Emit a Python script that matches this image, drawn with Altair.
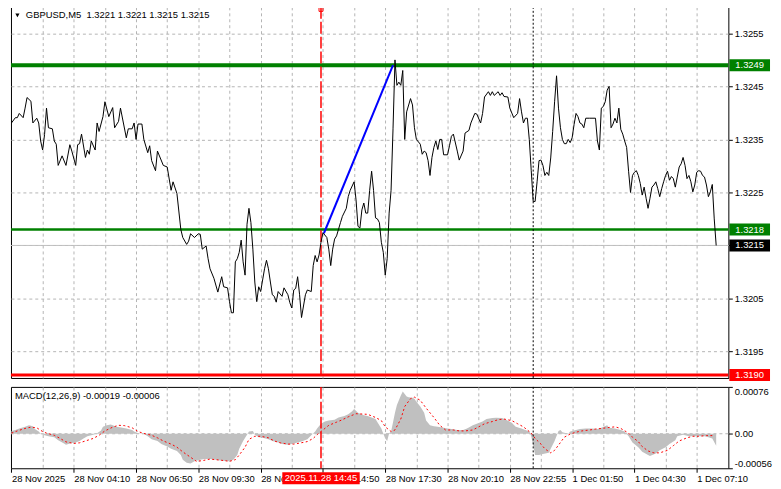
import json
import altair as alt
import pandas as pd

# ---------------- data ----------------
# GBPUSD M5 close, (bar index, price)
close_segment_1 = [
    (0, 1.32381), (2, 1.32391), (3, 1.32391), (4, 1.32399), (6, 1.32391), (7, 1.32409), (8, 1.32429),
    (10, 1.32422), (11, 1.32381), (13, 1.32390), (14, 1.32381), (15, 1.32347), (16, 1.32330), (17, 1.32359),
    (18, 1.32409), (19, 1.32372), (21, 1.32370), (22, 1.32347), (23, 1.32341), (24, 1.32301), (26, 1.32319),
    (28, 1.32301), (30, 1.32340), (31, 1.32328), (33, 1.32301), (34, 1.32340), (35, 1.32342), (36, 1.32360),
    (38, 1.32316), (39, 1.32330), (40, 1.32322), (41, 1.32347), (43, 1.32330), (44, 1.32381), (45, 1.32365),
    (47, 1.32393), (48, 1.32421), (50, 1.32393), (52, 1.32410), (53, 1.32372), (55, 1.32384), (56, 1.32409),
    (59, 1.32353), (60, 1.32370), (62, 1.32370), (63, 1.32381), (64, 1.32350), (65, 1.32379), (67, 1.32379),
    (68, 1.32350), (70, 1.32325), (71, 1.32338), (72, 1.32310), (74, 1.32291), (75, 1.32328), (78, 1.32301),
    (80, 1.32298), (82, 1.32254), (83, 1.32270), (85, 1.32248), (87, 1.32180), (88, 1.32165), (90, 1.32152),
    (91, 1.32158),
]
close_segment_2 = [
    (92, 1.32172), (94, 1.32165), (96, 1.32172), (97, 1.32171), (98, 1.32143), (100, 1.32149), (101, 1.32125),
    (102, 1.32106), (104, 1.32088), (106, 1.32062), (108, 1.32091), (109, 1.32072), (111, 1.32070),
    (112, 1.32044), (113, 1.32023), (114, 1.32023), (115, 1.32119), (116, 1.32125), (117, 1.32137),
    (118, 1.32160), (119, 1.32119), (120, 1.32094), (121, 1.32190), (122, 1.32220), (123, 1.32193),
    (124, 1.32143), (125, 1.32081), (126, 1.32044), (127, 1.32072), (128, 1.32063), (130, 1.32106),
    (131, 1.32122), (132, 1.32106), (133, 1.32081), (134, 1.32057), (135, 1.32054), (136, 1.32043),
    (137, 1.32063), (139, 1.32054), (140, 1.32070), (142, 1.32057), (143, 1.32042), (144, 1.32032),
    (145, 1.32066), (146, 1.32069), (147, 1.32091), (148, 1.32057), (149, 1.32014), (151, 1.32057),
    (152, 1.32066), (154, 1.32063), (155, 1.32112), (156, 1.32131), (157, 1.32119), (158, 1.32132),
    (159, 1.32156), (160, 1.32174), (162, 1.32165), (163, 1.32143), (164, 1.32112), (165, 1.32143),
    (166, 1.32162), (167, 1.32168), (169, 1.32193), (170, 1.32205), (172, 1.32220), (173, 1.32242),
    (174, 1.32254), (176, 1.32270), (177, 1.32236), (178, 1.32186), (179, 1.32183), (180, 1.32217),
    (181, 1.32230),
]
close_segment_3 = [
    (182, 1.32211), (183, 1.32211), (184, 1.32254), (185, 1.32290), (186, 1.32254), (187, 1.32202),
    (188, 1.32200), (189, 1.32193), (190, 1.32156), (191, 1.32137), (192, 1.32094), (193, 1.32125),
    (194, 1.32211), (195, 1.32254), (196, 1.32370), (197, 1.32500), (198, 1.32452), (199, 1.32458),
    (200, 1.32452), (201, 1.32480), (202, 1.32350), (203, 1.32402), (205, 1.32427), (206, 1.32415),
    (207, 1.32372), (208, 1.32350), (210, 1.32341), (211, 1.32322), (212, 1.32328), (213, 1.32325),
    (214, 1.32310), (215, 1.32282), (216, 1.32316), (217, 1.32335), (218, 1.32347), (219, 1.32331),
    (220, 1.32350), (221, 1.32350), (222, 1.32321), (224, 1.32321), (225, 1.32338), (226, 1.32356),
    (227, 1.32360), (229, 1.32328), (230, 1.32311), (232, 1.32328), (233, 1.32362), (235, 1.32367),
    (236, 1.32381), (238, 1.32399), (239, 1.32398), (241, 1.32381), (242, 1.32399), (243, 1.32430),
    (245, 1.32440), (246, 1.32433), (247, 1.32440), (248, 1.32433), (250, 1.32440), (251, 1.32433),
    (252, 1.32438), (253, 1.32431), (255, 1.32430), (256, 1.32409), (258, 1.32391), (260, 1.32399),
    (261, 1.32427), (262, 1.32402), (263, 1.32381), (264, 1.32390), (265, 1.32390), (266, 1.32350),
    (267, 1.32291), (268, 1.32233), (269, 1.32233), (270, 1.32270),
]
close_segment_4 = [
    (271, 1.32310), (272, 1.32311), (273, 1.32301), (274, 1.32282), (275, 1.32288), (276, 1.32282),
    (277, 1.32315), (278, 1.32365), (279, 1.32421), (280, 1.32470), (281, 1.32409), (282, 1.32372),
    (283, 1.32350), (284, 1.32342), (285, 1.32342), (286, 1.32350), (287, 1.32344), (288, 1.32353),
    (289, 1.32378), (290, 1.32399), (291, 1.32393), (292, 1.32381), (293, 1.32379), (294, 1.32372),
    (295, 1.32390), (297, 1.32390), (300, 1.32390), (301, 1.32347), (302, 1.32330), (303, 1.32409),
    (304, 1.32412), (305, 1.32421), (306, 1.32443), (307, 1.32450), (308, 1.32372), (309, 1.32379),
    (310, 1.32390), (311, 1.32381), (312, 1.32409), (313, 1.32369), (314, 1.32360), (315, 1.32347),
    (316, 1.32335), (317, 1.32290), (318, 1.32250), (319, 1.32282), (320, 1.32288), (321, 1.32291),
    (322, 1.32282), (323, 1.32267), (324, 1.32245), (325, 1.32260), (326, 1.32239), (327, 1.32220),
    (328, 1.32239), (329, 1.32260), (330, 1.32264), (331, 1.32270), (332, 1.32257), (333, 1.32242),
    (334, 1.32257), (335, 1.32270), (336, 1.32282), (337, 1.32290), (338, 1.32273), (339, 1.32280),
    (340, 1.32276), (341, 1.32260), (342, 1.32279), (343, 1.32298), (344, 1.32304), (345, 1.32316),
    (346, 1.32301), (347, 1.32276), (348, 1.32282), (349, 1.32270), (350, 1.32251), (351, 1.32264),
    (352, 1.32288), (353, 1.32291), (354, 1.32290), (355, 1.32282), (356, 1.32279), (357, 1.32264),
    (358, 1.32242), (359, 1.32251), (360, 1.32265), (361, 1.32200), (362, 1.32150),
]

# MACD(12,26,9) main line (histogram), (bar, value)
macd_main = [
    (0, 0.000046), (2, 0.000061), (4, 0.000086), (7, 0.000112), (9, 0.000137), (11, 0.000122),
    (12, 0.000076), (14, 0.000036), (15, 0.0), (17, -0.000025), (19, -0.000041), (22, -0.000056),
    (24, -0.000107), (27, -0.000157), (28, -0.000178), (31, -0.000152), (33, -0.000142), (35, -0.000117),
    (37, -0.000076), (39, -0.000041), (42, -0.000015), (44, 0.000010), (46, 0.000051), (47, 0.000112),
    (49, 0.000137), (51, 0.000152), (52, 0.000137), (54, 0.000112), (57, 0.000096), (59, 0.000086),
    (62, 0.000061), (63, 0.000036), (65, 0.000010), (68, 0.0), (70, -0.000041), (72, -0.000091),
    (75, -0.000117), (77, -0.000168), (80, -0.000208), (82, -0.000244), (85, -0.000279), (87, -0.000345),
    (88, -0.000421), (90, -0.000472), (92, -0.000482), (94, -0.000447), (97, -0.000421), (99, -0.000411),
    (102, -0.000411), (105, -0.000421), (108, -0.000437), (112, -0.000447), (114, -0.000421),
    (116, -0.000345), (117, -0.000244), (119, -0.000117), (121, -0.000015), (122, 0.000036),
    (124, 0.000046), (125, -0.000015), (127, -0.000056), (129, -0.000066), (132, -0.000091),
    (134, -0.000117), (137, -0.000142), (139, -0.000168), (142, -0.000178), (144, -0.000168),
    (147, -0.000142), (149, -0.000127), (152, -0.000091), (154, -0.000025), (156, 0.000036),
    (157, 0.000086), (159, 0.000162), (161, 0.000198), (163, 0.000213), (166, 0.000228), (168, 0.000264),
    (171, 0.000289), (173, 0.000315), (175, 0.000365), (176, 0.000401), (178, 0.000340), (181, 0.000299),
    (183, 0.000289), (185, 0.000264), (187, 0.000239), (188, 0.000188), (190, 0.000086), (191, 0.0),
    (192, -0.000076), (193, -0.000117), (194, 0.000010), (195, 0.000036), (196, 0.000188), (197, 0.000340),
    (198, 0.000467), (199, 0.000543), (200, 0.000619), (201, 0.000685), (202, 0.000645), (203, 0.000604),
    (204, 0.000594), (206, 0.000584), (207, 0.000569), (208, 0.000518), (210, 0.000442), (212, 0.000340),
    (213, 0.000213), (215, 0.000137), (217, 0.000122), (219, 0.000112), (222, 0.000096), (224, 0.000086),
    (227, 0.000071), (229, 0.000061), (232, 0.000061), (234, 0.000086), (237, 0.000137), (239, 0.000162),
    (242, 0.000198), (244, 0.000239), (247, 0.000254), (249, 0.000259), (252, 0.000254), (254, 0.000228),
    (257, 0.000178), (259, 0.000112), (262, 0.000086), (264, 0.000061), (266, 0.000036), (267, -0.000041),
    (269, -0.000345), (271, -0.000345), (273, -0.000330), (276, -0.000310), (277, -0.000244),
    (279, -0.000117), (281, 0.000046), (282, 0.000061), (283, 0.000025), (286, 0.0), (287, 0.000036),
    (290, 0.000061), (292, 0.000076), (295, 0.000086), (298, 0.000086), (301, 0.000076), (303, 0.000096),
    (306, 0.000137), (307, 0.000096), (310, 0.000086), (313, 0.000061), (315, 0.000036), (317, -0.000041),
    (319, -0.000142), (322, -0.000218), (324, -0.000294), (327, -0.000345), (328, -0.000360),
    (331, -0.000320), (333, -0.000269), (336, -0.000218), (338, -0.000168), (341, -0.000107),
    (342, -0.000041), (345, -0.000015), (348, -0.000041), (351, -0.000041), (353, -0.000041),
    (356, -0.000041), (358, -0.000056), (360, -0.000076), (362, -0.000193),
]

# MACD signal line, (bar, value)
macd_signal = [
    (0, 0.000010), (3, 0.000046), (7, 0.000086), (10, 0.000107), (13, 0.000096), (16, 0.000036),
    (18, 0.000010), (22, -0.000025), (25, -0.000076), (28, -0.000132), (32, -0.000157), (35, -0.000147),
    (38, -0.000117), (42, -0.000076), (45, -0.000025), (48, 0.000046), (52, 0.000107), (55, 0.000137),
    (58, 0.000132), (62, 0.000096), (65, 0.000036), (68, 0.000005), (72, -0.000025), (75, -0.000066),
    (78, -0.000117), (82, -0.000168), (85, -0.000218), (88, -0.000294), (92, -0.000381), (95, -0.000447),
    (98, -0.000437), (102, -0.000411), (105, -0.000421), (108, -0.000431), (112, -0.000447),
    (115, -0.000421), (117, -0.000345), (120, -0.000218), (122, -0.000091), (125, -0.000041),
    (128, -0.000041), (132, -0.000066), (135, -0.000117), (138, -0.000147), (142, -0.000168),
    (145, -0.000168), (148, -0.000152), (152, -0.000127), (155, -0.000076), (157, -0.000015),
    (160, 0.000061), (163, 0.000137), (167, 0.000188), (170, 0.000228), (173, 0.000274), (177, 0.000325),
    (183, 0.000315), (187, 0.000264), (190, 0.000213), (192, 0.000112), (195, 0.000036), (197, 0.000061),
    (200, 0.000239), (202, 0.000442), (205, 0.000569), (207, 0.000594), (210, 0.000543), (213, 0.000416),
    (217, 0.000264), (220, 0.000137), (223, 0.000061), (227, 0.000061), (230, 0.000046), (233, 0.000046),
    (237, 0.000061), (240, 0.000112), (243, 0.000162), (247, 0.000198), (250, 0.000228), (253, 0.000239),
    (257, 0.000213), (260, 0.000162), (263, 0.000112), (267, 0.000010), (269, -0.000076), (272, -0.000168),
    (274, -0.000244), (277, -0.000310), (279, -0.000269), (282, -0.000142), (284, -0.000056),
    (287, -0.000005), (290, 0.000025), (293, 0.000046), (297, 0.000061), (300, 0.000076), (303, 0.000086),
    (307, 0.000102), (310, 0.000112), (313, 0.000086), (317, 0.000010), (319, -0.000056), (322, -0.000127),
    (324, -0.000208), (327, -0.000279), (330, -0.000310), (333, -0.000310), (337, -0.000269),
    (340, -0.000193), (343, -0.000117), (347, -0.000066), (350, -0.000041), (353, -0.000041),
    (357, -0.000030), (360, -0.000030),
]

grid_bars = [0, 16, 32, 48, 64, 80, 96, 112, 128, 144, 160, 176, 192, 208, 224, 240, 256, 272, 288, 304,
             320, 336, 352]
time_labels = ["28 Nov 2025", "28 Nov 04:10", "28 Nov 06:50", "28 Nov 09:30", "28 Nov 12:10",
               "28 Nov 14:50", "28 Nov 17:30", "28 Nov 20:10", "28 Nov 22:55", "1 Dec 01:50",
               "1 Dec 04:30", "1 Dec 07:10"]
price_ticks = [1.3195, 1.3205, 1.3215, 1.3225, 1.3235, 1.3245, 1.3255]
macd_ticks = [-0.00056, 0.0, 0.00076]
macd_tick_labels = ["-0.00056", "0.00", "0.00076"]

resistance_price = [1.3249]
support_price = [1.3218]
current_price = [1.3215]
stop_price = [1.3190]
trend_bar = [160.5, 196.0]
trend_price = [1.32173, 1.32490]
marker_bar = [159]
session_bar = [268]

title_text = "GBPUSD,M5\u00a0 1.3221 1.3221 1.3215 1.3215"
macd_text = "MACD(12,26,9) -0.00019 -0.00006"
marker_time = "2025.11.28 14:45"

# ---------------- styling ----------------
W = 723
H_MAIN = 374
H_MACD = 82
FONT = "Liberation Sans"
FS = 9.5
GRID = "#b4b4b4"
GREEN = "#008000"

close_rows = close_segment_1 + close_segment_2 + close_segment_3 + close_segment_4
price_df = pd.DataFrame(close_rows, columns=["bar", "price"])
macd_df = pd.DataFrame(macd_main, columns=["bar", "value"])
signal_df = pd.DataFrame(macd_signal, columns=["bar", "value"])
trend_df = pd.DataFrame({"bar": trend_bar, "price": trend_price})

x_scale = alt.Scale(domain=[-0.25, 368.25], nice=False, zero=False)
y_scale = alt.Scale(domain=[1.3190, 1.3260], nice=False, zero=False)
m_scale = alt.Scale(domain=[-0.00056, 0.00076], nice=False, zero=False)

main_x_axis = alt.Axis(values=grid_bars[1:], labels=False, ticks=False, domain=False, grid=True,
                       gridDash=[3, 3], gridColor=GRID, title=None)
main_y_axis = alt.Axis(orient="right", values=price_ticks, format=".4f", grid=True, gridDash=[3, 3],
                       gridColor=GRID, tickSize=4, tickColor="black", labelPadding=2, domain=False,
                       title=None, labelFont=FONT, labelFontSize=FS, labelColor="black")

labels_js = json.dumps(time_labels)
macd_x_axis = alt.Axis(
    values=grid_bars,
    labelExpr=f"datum.value % 32 === 0 ? {labels_js}[datum.value / 32] : ''",
    labelAlign="left", labelFlush=False, labelOverlap=False, labelBound=False,
    tickSize=4, tickColor="black",
    tickOpacity={"condition": {"test": "datum.value % 32 === 0", "value": 1}, "value": 0},
    labelPadding=1, grid=True, gridDash=[3, 3], gridColor=GRID,
    gridOpacity={"condition": {"test": "datum.value === 0", "value": 0}, "value": 1},
    domain=False, title=None, labelFont=FONT, labelFontSize=FS, labelColor="black")

macd_label_expr = (f"datum.value < 0 ? '{macd_tick_labels[0]}' : "
                   f"(datum.value > 0 ? '{macd_tick_labels[2]}' : '{macd_tick_labels[1]}')")
macd_y_axis = alt.Axis(orient="right", values=macd_ticks, labelExpr=macd_label_expr, grid=False,
                       tickSize=4, tickColor="black", labelPadding=2, labelFlush=True, domain=False,
                       title=None, labelFont=FONT, labelFontSize=FS, labelColor="black")

X = alt.X("bar:Q", scale=x_scale, axis=main_x_axis)
Y = alt.Y("price:Q", scale=y_scale, axis=main_y_axis)
XM = alt.X("bar:Q", scale=x_scale, axis=macd_x_axis)
YM = alt.Y("value:Q", scale=m_scale, axis=macd_y_axis)


def price_df_of(vals):
    return pd.DataFrame({"price": vals, "label": [f"{v:.4f}" for v in vals]})


def bar_df_of(vals):
    return pd.DataFrame({"bar": vals})


# ---------------- main panel ----------------
cur_line = alt.Chart(price_df_of(current_price)).mark_rule(color="#c0c0c0", strokeWidth=1).encode(y=Y)
sup_line = alt.Chart(price_df_of(support_price)).mark_rule(color=GREEN, strokeWidth=2.5).encode(y=Y)
res_line = alt.Chart(price_df_of(resistance_price)).mark_rule(color=GREEN, strokeWidth=4).encode(y=Y)
stop_line = alt.Chart(price_df_of(stop_price)).mark_rule(color="#ff0000", strokeWidth=3, yOffset=-3).encode(y=Y)

red_vline = alt.Chart(bar_df_of(marker_bar)).mark_rule(color="#ff0000", strokeWidth=1.5,
                                                       strokeDash=[12, 3]).encode(x=X)
black_vline = alt.Chart(bar_df_of(session_bar)).mark_rule(color="black", strokeWidth=1,
                                                          strokeDash=[2, 2]).encode(x=X)
marker_sq = alt.Chart(bar_df_of(marker_bar)).mark_point(shape="square", filled=False, color="#ff0000",
                                                        size=16, strokeWidth=1, opacity=1).encode(
    x=X, y=alt.value(2.5))

price_line = alt.Chart(price_df).mark_line(color="black", strokeWidth=1).encode(x=X, y=Y)
trend_line = alt.Chart(trend_df).mark_line(color="#0000ff", strokeWidth=2).encode(x=X, y=Y)


def price_box(vals, fill, y_shift=0):
    d = price_df_of(vals)
    box = alt.Chart(d).mark_rect(color=fill, yOffset=y_shift - 6, y2Offset=y_shift + 6).encode(
        y=Y, y2=alt.Y2("price:Q"), x=alt.value(W + 1), x2=alt.value(W + 42))
    txt = alt.Chart(d).mark_text(color="white", align="left", baseline="middle", font=FONT,
                                 fontSize=FS, yOffset=y_shift).encode(
        y=Y, x=alt.value(W + 7), text="label:N")
    return box + txt


title_tri = alt.Chart(pd.DataFrame({"t": [title_text]})).mark_point(
    shape="triangle-down", filled=True, color="black", size=18, opacity=1).encode(
    x=alt.value(6.5), y=alt.value(8.5))
title_txt = alt.Chart(pd.DataFrame({"t": [title_text]})).mark_text(
    align="left", baseline="middle", font=FONT, fontSize=FS, color="black").encode(
    x=alt.value(15), y=alt.value(8), text="t:N")

main = alt.layer(
    cur_line, sup_line, res_line, stop_line, red_vline, black_vline, price_line, trend_line, marker_sq,
    price_box(resistance_price, GREEN), price_box(support_price, GREEN),
    price_box(current_price, "black"), price_box(stop_price, "#ff0000", -3),
    title_tri, title_txt,
).properties(width=W, height=H_MAIN)

# ---------------- MACD panel ----------------
zero_line = alt.Chart(pd.DataFrame({"value": [0.0]})).mark_rule(color=GRID, strokeDash=[3, 3]).encode(y=YM)
hist = alt.Chart(macd_df).mark_area(color="#c0c0c0", opacity=1, interpolate="linear").encode(x=XM, y=YM)
sig = alt.Chart(signal_df).mark_line(color="#ff0000", strokeWidth=1, strokeDash=[2, 2.5]).encode(x=XM, y=YM)
red_vline_m = alt.Chart(bar_df_of(marker_bar)).mark_rule(color="#ff0000", strokeWidth=1.5,
                                                         strokeDash=[12, 3]).encode(x=XM)
black_vline_m = alt.Chart(bar_df_of(session_bar)).mark_rule(color="black", strokeWidth=1,
                                                            strokeDash=[2, 2]).encode(x=XM)
macd_txt = alt.Chart(pd.DataFrame({"t": [macd_text]})).mark_text(
    align="left", baseline="middle", font=FONT, fontSize=FS, color="black").encode(
    x=alt.value(4), y=alt.value(9), text="t:N")
time_df = pd.DataFrame({"bar": marker_bar, "t": [marker_time]})
time_box = alt.Chart(time_df).mark_rect(color="#ff0000", xOffset=-39, x2Offset=39).encode(
    x=XM, x2=alt.X2("bar:Q"), y=alt.value(H_MACD + 4), y2=alt.value(H_MACD + 16))
time_txt = alt.Chart(time_df).mark_text(color="white", align="center", baseline="middle", font=FONT,
                                        fontSize=FS).encode(x=XM, y=alt.value(H_MACD + 10), text="t:N")

macd = alt.layer(zero_line, hist, sig, red_vline_m, black_vline_m, macd_txt, time_box, time_txt).properties(
    width=W, height=H_MACD)

chart = alt.vconcat(main, macd, spacing=3).properties(
    padding={"left": 0, "top": -5, "right": 0, "bottom": -1},
    background="white",
).configure_view(stroke="black", strokeWidth=1)

chart.save("out.html", embed_options={"renderer": "svg", "actions": False})
